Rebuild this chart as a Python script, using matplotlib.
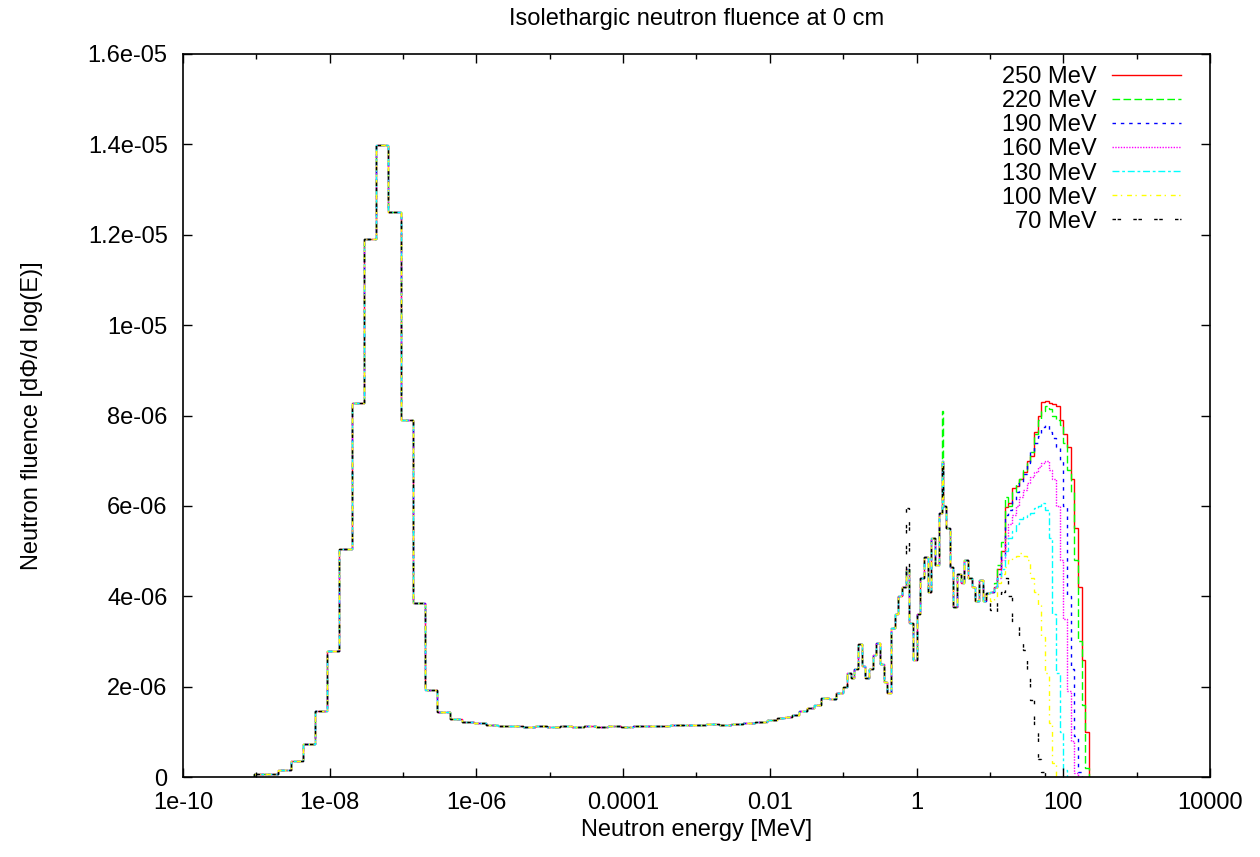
import numpy as np
import matplotlib
matplotlib.use("Agg")
import matplotlib.pyplot as plt
from matplotlib.ticker import FixedLocator, NullFormatter

plt.rcParams['font.family'] = ['Liberation Sans', 'DejaVu Sans']

# bin edges in log10(E/MeV), same for every beam energy up to 10 MeV
shared_log_edges = [
    -9.033, -8.867, -8.7, -8.533, -8.367, -8.2, -8.033, -7.867, -7.7,
    -7.533, -7.367, -7.2, -7.033, -6.867, -6.7, -6.533, -6.367, -6.2,
    -6.033, -5.867, -5.7, -5.533, -5.367, -5.2, -5.033, -4.867, -4.7,
    -4.533, -4.367, -4.2, -4.033, -3.867, -3.7, -3.533, -3.367, -3.2,
    -3.033, -2.867, -2.7, -2.533, -2.367, -2.2, -2.033,
    -1.9, -1.8, -1.7, -1.6, -1.5, -1.4, -1.3, -1.2, -1.1, -1.0,
    -0.95, -0.9, -0.85, -0.8, -0.75, -0.7, -0.65,
    -0.6, -0.55, -0.5, -0.45, -0.4, -0.35, -0.3, -0.25, -0.2, -0.15, -0.1,
    -0.05, 0.0, 0.05, 0.1, 0.15, 0.2, 0.25, 0.3, 0.35, 0.365, 0.4, 0.45, 0.5,
    0.55, 0.6, 0.65, 0.7, 0.75, 0.8, 0.85, 0.9, 0.95, 1.0,
]

# fluence per bin, units of 1e-6
shared_phi = [
    0.06, 0.07, 0.16, 0.36, 0.74, 1.46, 2.79, 5.05, 8.27, 11.9, 13.98, 12.5,
    7.9, 3.85, 1.92, 1.44, 1.28,
    1.22, 1.19, 1.15, 1.13, 1.12, 1.11, 1.12, 1.11, 1.12, 1.10, 1.12, 1.11,
    1.12, 1.11, 1.12, 1.12, 1.13, 1.14, 1.14, 1.15, 1.17, 1.16, 1.18, 1.20,
    1.22,
    1.26, 1.30, 1.33, 1.38, 1.47, 1.52, 1.60, 1.75, 1.72, 1.85,
    2.0, 2.3, 2.2, 2.4, 2.95, 2.45, 2.2,
    2.4, 2.7, 2.97, 2.5, 2.1, 1.86, 3.3, 3.6, 4.0, 4.2, 4.6, 3.4, 2.6, 3.6,
    4.4, 4.87, 4.1, 5.3, 4.7, 5.84, 7.0, 6.0, 5.5, 4.65, 3.76, 4.5, 4.3, 4.8,
    4.4, 4.2, 3.9, 4.36, 3.9, 4.07,
]

# high energy part, bins of 0.05 decade starting at 10 MeV
tail_log_edges = [
    1.0, 1.05, 1.1, 1.15, 1.2, 1.25, 1.3, 1.35, 1.4, 1.45, 1.5, 1.55, 1.6,
    1.65, 1.7, 1.75, 1.8, 1.85, 1.9, 1.95, 2.0, 2.05, 2.1, 2.15, 2.2, 2.25,
    2.3, 2.35,
]
tail_250 = [4.1, 4.2, 4.6, 5.0, 5.97, 6.06, 6.4, 6.45, 6.6, 6.75, 7.0, 7.1,
            7.64, 8.0, 8.3, 8.32, 8.28, 8.25, 8.2, 7.9, 7.6, 7.3, 6.6, 5.5,
            4.2, 2.6, 1.0]
tail_220 = [4.1, 4.3, 4.7, 5.2, 6.2, 6.0, 6.3, 6.5, 6.6, 6.8, 6.95, 7.2,
            7.6, 7.9, 8.1, 8.2, 8.15, 8.0, 7.9, 7.8, 7.4, 6.8, 6.3, 4.8,
            3.0, 1.6, 0.2]
tail_190 = [4.1, 4.2, 4.5, 4.9, 5.8, 5.9, 6.1, 6.3, 6.5, 6.7, 6.95, 7.2,
            7.4, 7.55, 7.75, 7.8, 7.64, 7.5, 7.3, 7.0, 6.0, 4.0, 2.4, 0.9,
            0.1]
tail_160 = [4.1, 4.2, 4.4, 4.8, 5.3, 5.6, 5.8, 6.0, 6.2, 6.35, 6.5, 6.64,
            6.75, 6.85, 6.95, 7.0, 6.8, 6.6, 6.0, 4.8, 3.5, 1.9, 0.8, 0.08]
tail_130 = [4.1, 4.2, 4.4, 4.6, 5.0, 5.3, 5.45, 5.6, 5.7, 5.75, 5.8, 5.85,
            5.95, 6.0, 6.06, 5.9, 5.3, 3.6, 2.3, 1.0, 0.15]
tail_100 = [3.9, 4.0, 4.3, 4.5, 4.65, 4.8, 4.85, 4.9, 4.96, 4.9, 4.8, 4.4,
            4.1, 3.8, 3.1, 2.3, 1.2, 0.3]
tail_70 = [3.7, 3.6, 3.9, 4.1, 4.4, 4.0, 3.4, 3.35, 3.1, 2.8, 2.3, 1.7, 1.0,
           0.4, 0.1]

# single bins where one beam sticks out: (log10 E, value 1e-6)
spikes = {"220 MeV": (0.357, 8.1), "70 MeV": (-0.125, 5.95)}

labels = ["250 MeV", "220 MeV", "190 MeV", "160 MeV", "130 MeV", "100 MeV", "70 MeV"]
tails = [tail_250, tail_220, tail_190, tail_160, tail_130, tail_100, tail_70]
colors = ["#ff0000", "#00ff00", "#0000ff", "#ff00ff", "#00ffff", "#ffff00", "#000000"]
styles = ["-", (0, (5.5, 2.4)), (0, (2.5, 3.5)), (0, (1, 1)),
          (0, (5, 2, 2, 2)), (0, (3.5, 2.5, 1, 3.5)), (0, (2.5, 1.2, 2.5, 8.8))]

fig = plt.figure(figsize=(12.6, 8.57), dpi=100)
ax = fig.add_axes([183/1260, 1-777/857, 1027/1260, 723/857])

edges0 = np.array(shared_log_edges)
for lab, tail, col, ls in zip(labels, tails, colors, styles):
    phi = np.array(shared_phi, dtype=float)
    if lab in spikes:
        le, v = spikes[lab]
        phi[np.searchsorted(edges0, le) - 1] = v
    edges = np.concatenate([edges0, np.array(tail_log_edges[1:len(tail)+1])])
    vals = np.concatenate([phi, np.array(tail)]) * 1e-6
    ax.stairs(vals, 10**edges, color=col, linestyle=ls, linewidth=1.0, label=lab)

ax.set_xscale('log')
ax.set_xlim(1e-10, 1e4)
ax.set_ylim(0, 1.6e-5)

xmaj = [1e-10, 1e-8, 1e-6, 1e-4, 1e-2, 1, 100, 1e4]
xlab = ["1e-10", "1e-08", "1e-06", "0.0001", "0.01", "1", "100", "10000"]
xmin = [1e-9, 1e-7, 1e-5, 1e-3, 1e-1, 10, 1000]
ax.xaxis.set_major_locator(FixedLocator(xmaj))
ax.set_xticklabels(xlab)
ax.xaxis.set_minor_locator(FixedLocator(xmin))
ax.xaxis.set_minor_formatter(NullFormatter())

ymaj = [0, 2e-6, 4e-6, 6e-6, 8e-6, 1e-5, 1.2e-5, 1.4e-5, 1.6e-5]
ylab = ["0", "2e-06", "4e-06", "6e-06", "8e-06", "1e-05", "1.2e-05", "1.4e-05", "1.6e-05"]
ax.set_yticks(ymaj)
ax.set_yticklabels(ylab)

ax.tick_params(which='both', direction='in', top=True, right=True, labelsize=17, width=1.0)
ax.tick_params(axis='x', which='major', length=6.5, pad=11)
ax.tick_params(axis='x', which='minor', length=3.5)
ax.tick_params(axis='y', which='major', length=6.5, pad=11)
for s in ax.spines.values():
    s.set_linewidth(1.2)

ax.set_title("Isolethargic neutron fluence at 0 cm", fontsize=17, y=1.048, pad=0, va='center')
ax.set_xlabel("Neutron energy [MeV]", fontsize=17, va='center')
ax.xaxis.set_label_coords(0.5, -0.0733)
ax.set_ylabel("Neutron fluence [dΦ/d log(E)]", fontsize=17, va='center')
ax.yaxis.set_label_coords(-0.147, 0.5)

ax.legend(loc='upper right', bbox_to_anchor=(0.9718, 0.9834), borderaxespad=0,
          borderpad=0, frameon=False, markerfirst=False, handlelength=2.92,
          handletextpad=0.64, labelspacing=0.09, fontsize=17)

fig.savefig("out.png", dpi=100)
